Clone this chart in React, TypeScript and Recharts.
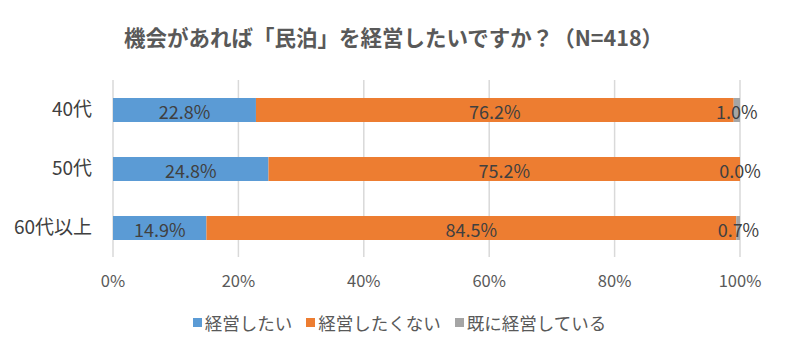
import React from 'react';
import { BarChart, Bar, XAxis, YAxis, CartesianGrid, LabelList } from 'recharts';

const categories = ['40代', '50代', '60代以上'];
const wantToRun = [22.8, 24.8, 14.9];
const dontWant = [76.2, 75.2, 84.5];
const alreadyRun = [1.0, 0.0, 0.7];
const seriesNames = ['経営したい', '経営したくない', '既に経営している'];
const seriesColors = ['#5B9BD5', '#ED7D31', '#A5A5A5'];
const xTicks = [0, 20, 40, 60, 80, 100];

const data = categories.map((c, i) => ({
  name: c,
  a: wantToRun[i],
  b: dontWant[i],
  c: alreadyRun[i],
}));

const FONT = '"Noto Sans CJK JP", "Noto Sans", sans-serif';
const fmt = (v: any) => `${Number(v).toFixed(1)}%`;
const LABEL_SIZE = 18;

const LabelText = ({ cx, cy, value }: { cx: number; cy: number; value: number }) => (
  <text
    x={cx}
    y={cy + 1}
    textAnchor="middle"
    dominantBaseline="central"
    fill="#404040"
    fontSize={LABEL_SIZE}
    fontFamily={FONT}
  >
    {fmt(value)}
  </text>
);

const CenterLabel = (props: any) => {
  const { x, y, width, height, value } = props;
  if (value === undefined || value === null) return null;
  return <LabelText cx={Number(x) + Number(width || 0) / 2} cy={Number(y) + Number(height) / 2} value={Number(value)} />;
};

// Orange series: draws its own label plus the "already running" label at the end of the stack
const OrangeLabels = (props: any) => {
  const { x, y, width, height, value, index } = props;
  const xs = Number(x), w = Number(width), h = Number(height), ys = Number(y);
  const pxPerUnit = w / Number(value);
  const g = alreadyRun[index];
  const gx = xs + w + (g * pxPerUnit) / 2;
  return (
    <g>
      <LabelText cx={xs + w / 2} cy={ys + h / 2} value={Number(value)} />
      <LabelText cx={gx} cy={ys + h / 2} value={g} />
    </g>
  );
};

export default function App() {
  return (
    <div style={{ position: 'absolute', left: 0, top: 0, width: 787, height: 352, background: '#fff', fontFamily: FONT }}>
      <BarChart
        width={787}
        height={352}
        data={data}
        layout="vertical"
        margin={{ top: 80, right: 47, left: 0, bottom: 55 }}
        barSize={24}
        style={{ position: 'absolute', left: 0, top: 0 }}
      >
        <CartesianGrid horizontal={false} stroke="#D9D9D9" strokeWidth={1.5} />
        <XAxis
          type="number"
          domain={[0, 100]}
          ticks={xTicks}
          allowDataOverflow
          tickFormatter={(v: number) => `${v}%`}
          axisLine={false}
          tickLine={false}
          tickMargin={12}
          height={40}
          tick={{ fill: '#595959', fontSize: 16.5, fontFamily: FONT }}
        />
        <YAxis
          type="category"
          dataKey="name"
          width={113}
          axisLine={false}
          tickLine={false}
          tickMargin={15}
          tick={{ fill: '#404040', fontSize: 19, fontFamily: FONT }}
        />
        <Bar dataKey="a" stackId="s" fill={seriesColors[0]} isAnimationActive={false}>
          <LabelList dataKey="a" content={CenterLabel} />
        </Bar>
        <Bar dataKey="b" stackId="s" fill={seriesColors[1]} isAnimationActive={false}>
          <LabelList dataKey="b" content={OrangeLabels} />
        </Bar>
        <Bar dataKey="c" stackId="s" fill={seriesColors[2]} isAnimationActive={false} />
      </BarChart>
      <div style={{ position: 'absolute', left: 0, width: 787, top: 21, textAlign: 'center', fontSize: 21.5, fontWeight: 'bold', color: '#595959' }}>
        <span style={{ position: 'relative', left: 0 }}>機会があれば「民泊」を経営したいですか？（N=418）</span>
      </div>
      <div style={{ position: 'absolute', top: 310, left: 0, width: 787, display: 'flex', justifyContent: 'center', fontSize: 17.5, color: '#595959' }}>
        {seriesNames.map((n, i) => (
          <div key={n} style={{ display: 'flex', alignItems: 'center', marginRight: i < 2 ? 14 : 0, position: 'relative', left: 6 }}>
            <span style={{ display: 'inline-block', width: 9, height: 9, background: seriesColors[i], marginRight: 3 }} />
            <span>{n}</span>
          </div>
        ))}
      </div>
    </div>
  );
}
